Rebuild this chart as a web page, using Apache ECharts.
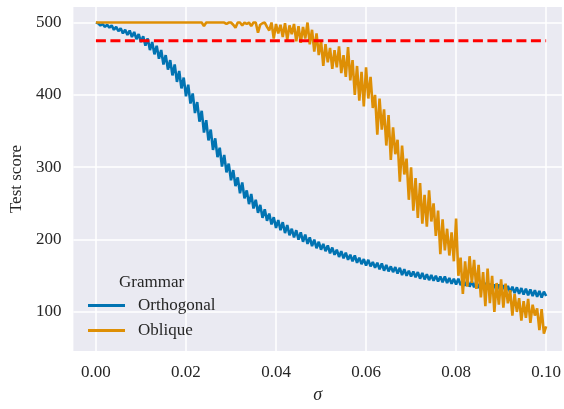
<!DOCTYPE html>
<html>
<head>
<meta charset="utf-8">
<script src="https://cdn.jsdelivr.net/npm/echarts@6/dist/echarts.min.js"></script>
<style>
  html, body { margin: 0; padding: 0; background: #ffffff; }
  #chart { width: 564px; height: 409px; }
</style>
</head>
<body>
<div id="chart"></div>
<script>
// Noise level sigma (sample positions)
const sigma = [
  0,0.0005,0.001,0.0015,0.002,0.0025,0.003,0.0035,0.004,0.0045,
  0.005,0.0055,0.006,0.0065,0.007,0.0075,0.008,0.0085,0.009,0.0095,
  0.01,0.0105,0.011,0.0115,0.012,0.0125,0.013,0.0135,0.014,0.0145,
  0.015,0.0155,0.016,0.0165,0.017,0.0175,0.018,0.0185,0.019,0.0195,
  0.02,0.0205,0.021,0.0215,0.022,0.0225,0.023,0.0235,0.024,0.0245,
  0.025,0.0255,0.026,0.0265,0.027,0.0275,0.028,0.0285,0.029,0.0295,
  0.03,0.0305,0.031,0.0315,0.032,0.0325,0.033,0.0335,0.034,0.0345,
  0.035,0.0355,0.036,0.0365,0.037,0.0375,0.038,0.0385,0.039,0.0395,
  0.04,0.0405,0.041,0.0415,0.042,0.0425,0.043,0.0435,0.044,0.0445,
  0.045,0.0455,0.046,0.0465,0.047,0.0475,0.048,0.0485,0.049,0.0495,
  0.05,0.0505,0.051,0.0515,0.052,0.0525,0.053,0.0535,0.054,0.0545,
  0.055,0.0555,0.056,0.0565,0.057,0.0575,0.058,0.0585,0.059,0.0595,
  0.06,0.0605,0.061,0.0615,0.062,0.0625,0.063,0.0635,0.064,0.0645,
  0.065,0.0655,0.066,0.0665,0.067,0.0675,0.068,0.0685,0.069,0.0695,
  0.07,0.0705,0.071,0.0715,0.072,0.0725,0.073,0.0735,0.074,0.0745,
  0.075,0.0755,0.076,0.0765,0.077,0.0775,0.078,0.0785,0.079,0.0795,
  0.08,0.0805,0.081,0.0815,0.082,0.0825,0.083,0.0835,0.084,0.0845,
  0.085,0.0855,0.086,0.0865,0.087,0.0875,0.088,0.0885,0.089,0.0895,
  0.09,0.0905,0.091,0.0915,0.092,0.0925,0.093,0.0935,0.094,0.0945,
  0.095,0.0955,0.096,0.0965,0.097,0.0975,0.098,0.0985,0.099,0.0995,
  0.1
];

// Test score, orthogonal grammar
const orthogonal = [
  500,499,496,498,494,497,493,496,490,494,
  488,492,485,490,483,489,480,487,477,484,
  473,481,468,478,462,473,456,468,450,462,
  442,455,435,448,427,442,418,433,409,424,
  398,414,388,402,375,390,363,378,348,365,
  337,352,324,340,314,327,301,317,293,305,
  282,296,274,286,264,279,257,268,249,263,
  243,255,237,248,230,242,226,236,221,231,
  216,227,213,224,209,220,206,215,203,213,
  200,210,197,207,194,203,191,200,188,197,
  186,194,184,192,181,189,179,186,176,184,
  174,182,172,179,170,178,168,175,166,173,
  164,172,163,169,161,168,159,167,157,165,
  156,163,155,162,153,161,151,159,150,157,
  149,156,148,155,146,154,145,152,144,151,
  143,150,142,149,141,149,140,147,139,146,
  138,146,137,144,136,144,135,142,134,142,
  133,141,132,140,132,139,131,138,129,138,
  129,137,128,136,127,135,126,134,125,133,
  124,132,123,131,122,130,121,129,120,128,
  122
];

// Test score, oblique grammar
const oblique = [
  500,500,500,500,500,500,500,500,500,500,
  500,500,500,500,500,500,500,500,500,500,
  500,500,500,500,500,500,500,500,500,500,
  500,500,500,500,500,500,500,500,500,500,
  500,500,500,500,500,500,500,500,495,500,
  500,500,500,500,500,500,500,500,498,500,
  500,497,493,500,500,496,500,498,500,495,
  500,500,486,497,499,500,494,489,500,478,
  498,485,497,480,499,476,496,484,498,474,
  495,472,494,478,500,470,490,460,485,455,
  475,440,470,445,465,436,462,438,467,430,
  455,425,466,420,448,400,440,392,432,384,
  438,395,425,382,400,345,395,352,380,330,
  372,310,355,318,338,280,330,290,312,255,
  300,240,285,230,278,222,262,218,268,225,
  250,205,240,180,228,185,215,178,210,170,
  229,150,175,125,170,135,177,140,172,132,
  165,120,155,108,160,112,150,100,140,110,
  145,106,139,112,130,95,125,100,119,88,
  115,92,118,85,110,95,105,75,104,70,
  80
];

// Reference threshold drawn as a dashed line
const thresholdSigma = [0, 0.1];
const thresholdScore = [475, 475];

const xTicks = [0, 0.02, 0.04, 0.06, 0.08, 0.1];
const yTicks = [100, 200, 300, 400, 500];

const FONT = 'Liberation Serif';
const TEXT = '#262626';

const pairs = (xs, ys) => xs.map((x, i) => [x, ys[i]]);

const chart = echarts.init(document.getElementById('chart'), null, { renderer: 'canvas' });

chart.setOption({
  animation: false,
  backgroundColor: '#ffffff',
  textStyle: { fontFamily: FONT },
  grid: {
    left: 73, right: 0, top: 7, bottom: 53,
    show: true, backgroundColor: '#EAEAF2', borderWidth: 0
  },
  xAxis: {
    type: 'value',
    min: -0.005, max: 0.1035,
    name: 'σ', nameLocation: 'middle', nameGap: 35,
    nameTextStyle: { fontFamily: FONT, fontSize: 18, color: TEXT, fontStyle: 'italic' },
    axisLine: { show: false },
    axisTick: { show: false, customValues: xTicks },
    axisLabel: {
      customValues: xTicks, margin: 13,
      fontFamily: FONT, fontSize: 17, color: TEXT,
      formatter: v => v.toFixed(2)
    },
    splitLine: { show: true, lineStyle: { color: '#ffffff', width: 1.5 } }
  },
  yAxis: {
    type: 'value',
    min: 46, max: 521.5,
    name: 'Test score', nameLocation: 'middle', nameGap: 43,
    nameTextStyle: { fontFamily: FONT, fontSize: 17, color: TEXT },
    axisLine: { show: false },
    axisTick: { show: false, customValues: yTicks },
    axisLabel: {
      customValues: yTicks, margin: 12,
      fontFamily: FONT, fontSize: 17, color: TEXT
    },
    splitLine: { show: true, lineStyle: { color: '#ffffff', width: 1.5 } }
  },
  legend: {
    data: ['Orthogonal', 'Oblique'],
    orient: 'vertical',
    left: 88, top: 297, padding: 0,
    itemWidth: 37, itemHeight: 3, itemGap: 8,
    icon: 'rect',
    textStyle: { fontFamily: FONT, fontSize: 17, color: TEXT, lineHeight: 17, padding: [0, 0, 0, 8] }
  },
  graphic: [{
    type: 'text',
    left: 119, top: 274,
    style: { text: 'Grammar', font: '17px "Liberation Serif"', fill: TEXT }
  }],
  series: [
    {
      name: 'Orthogonal', type: 'line',
      data: pairs(sigma, orthogonal),
      showSymbol: false, symbol: 'none',
      color: '#0173B2',
      lineStyle: { width: 2.6, color: '#0173B2' },
      z: 2
    },
    {
      name: 'Oblique', type: 'line',
      data: pairs(sigma, oblique),
      showSymbol: false, symbol: 'none',
      color: '#DE8F05',
      lineStyle: { width: 2.6, color: '#DE8F05' },
      z: 3
    },
    {
      name: 'threshold', type: 'line',
      data: pairs(thresholdSigma, thresholdScore),
      showSymbol: false, symbol: 'none',
      color: '#FF0000',
      lineStyle: { width: 3, color: '#FF0000', type: [10, 4.5] },
      z: 4
    }
  ]
});
</script>
</body>
</html>
